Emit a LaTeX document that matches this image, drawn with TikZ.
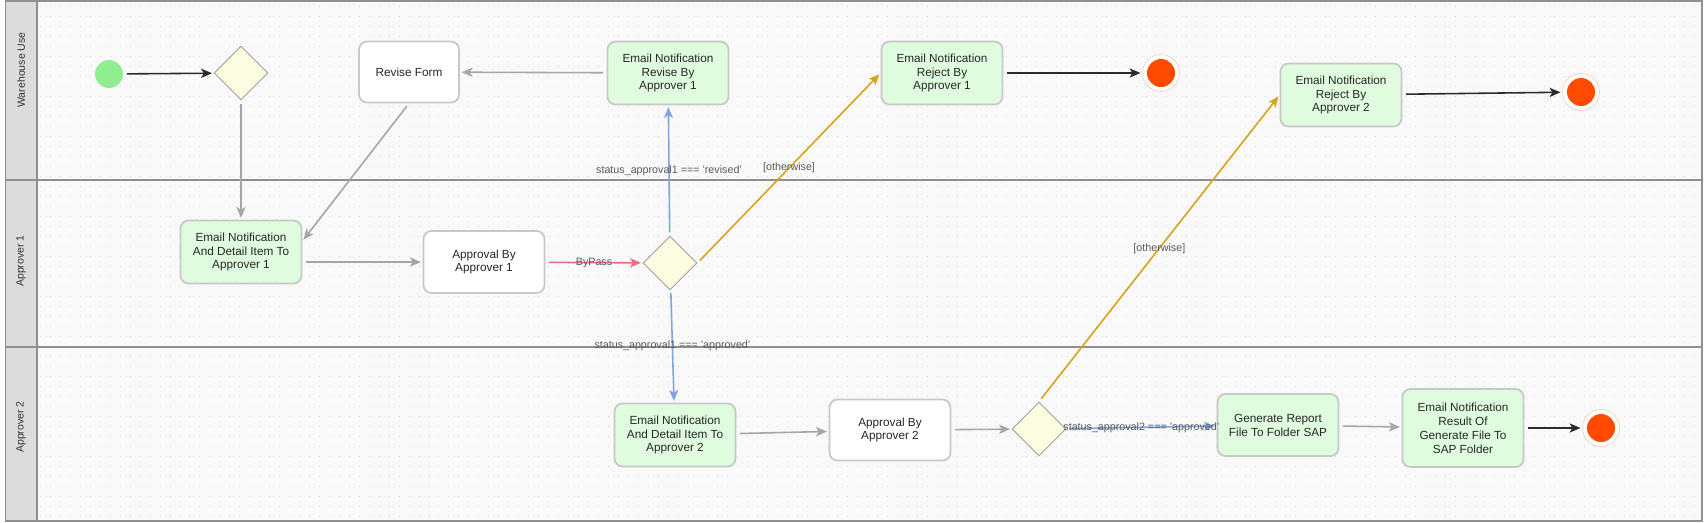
\documentclass[tikz,border=0pt]{standalone}
\usepackage{fontspec}
\setmainfont{Liberation Sans}
\usetikzlibrary{shapes.geometric,arrows.meta}
\definecolor{laneline}{HTML}{8F8F8F}
\definecolor{headfill}{HTML}{DCDCDC}
\definecolor{canvas}{HTML}{F9F9F9}
\definecolor{gridgray}{HTML}{DADADA}
\definecolor{boxline}{HTML}{C8C8C8}
\definecolor{mailfill}{HTML}{E0FCDF}
\definecolor{gatefill}{HTML}{FCFCE0}
\definecolor{gateline}{HTML}{A0A0A0}
\definecolor{startfill}{HTML}{90EE90}
\definecolor{endfill}{HTML}{FF4A00}
\definecolor{endring}{HTML}{FFC4B0}
\definecolor{flowgray}{HTML}{A6A6A6}
\definecolor{flowdark}{HTML}{2B2B2B}
\definecolor{flowblue}{HTML}{7EA6E0}
\definecolor{floworange}{HTML}{D9A21B}
\definecolor{flowpink}{HTML}{EA6B82}
\definecolor{labelgray}{HTML}{595959}
\tikzset{
    taskbox/.style={rectangle,rounded corners=1.6mm,draw=boxline,line width=1pt,fill=white,
        minimum width=2.42cm,minimum height=1.26cm,align=center,inner sep=1pt,
        font=\fontsize{6.7}{7.9}\selectfont,text=black!85},
    mailbox/.style={taskbox,fill=mailfill},
    gate/.style={diamond,draw=gateline,line width=0.5pt,fill=gatefill,
        minimum width=1.08cm,minimum height=1.08cm,inner sep=0pt},
    startdot/.style={circle,fill=startfill,minimum size=0.56cm,inner sep=0pt},
    enddot/.style={circle,draw=endring,line width=0.3pt,fill=white,minimum size=0.74cm,inner sep=0pt,
        path picture={\fill[endfill](path picture bounding box.center)circle(0.28cm);}},
    flow/.style={line width=0.9pt,-{Stealth[length=6.2pt,width=5.2pt,inset=1.6pt]},
        shorten <=2pt,shorten >=1pt},
    guard/.style={font=\fontsize{6.1}{7}\selectfont,text=labelgray,inner sep=1pt},
    lanetitle/.style={rotate=90,font=\fontsize{6}{7}\selectfont,text=black!80}
}
\begin{document}
\begin{tikzpicture}[x=0.02cm,y=-0.02cm]
            \useasboundingbox(0,0)rectangle(1704,522);
            \fill[white](0,0)rectangle(1704,522);
            \fill[canvas](37,1)rectangle(1702,521);
            \foreach \gy in {6,16,...,516}
                \draw[gridgray,line width=0.5pt,dash pattern=on 0.5pt off 5.17pt](40,\gy)--(1700,\gy);
            \fill[headfill](5.5,1)rectangle(37,521);
            \draw[laneline,line width=0.6pt](5.5,1)rectangle(1702,521);
            \draw[laneline,line width=0.6pt](5.5,180)--(1702,180);
            \draw[laneline,line width=0.6pt](5.5,347)--(1702,347);
            \draw[laneline,line width=0.6pt](37,1)--(37,521);
            \node[lanetitle](lane0)at(21,70){Warehouse Use};
            \node[lanetitle](lane1)at(21,261){Approver 1};
            \node[lanetitle](lane2)at(21,427){Approver 2};
            \node[startdot](start)at(109,74){};
            \node[gate](gate1)at(241,73){};
            \node[taskbox,minimum width=2cm,minimum height=1.22cm](revise)at(409,72){Revise Form};
            \node[mailbox](mailrev)at(668,73){Email Notification\\Revise By\\Approver 1};
            \node[mailbox](rej1)at(942,73){Email Notification\\Reject By\\Approver 1};
            \node[enddot](end1)at(1161,73){};
            \node[mailbox](rej2)at(1341,95){Email Notification\\Reject By\\Approver 2};
            \node[enddot](end2)at(1581,92){};
            \node[mailbox](mail1)at(241,252){Email Notification\\And Detail Item To\\Approver 1};
            \node[taskbox,minimum height=1.24cm](appr1)at(484,262){Approval By\\Approver 1};
            \node[gate](gate2)at(670,263){};
            \node[mailbox](mail2)at(675,435){Email Notification\\And Detail Item To\\Approver 2};
            \node[taskbox,minimum height=1.22cm](appr2)at(890,430){Approval By\\Approver 2};
            \node[gate](gate3)at(1039,429){};
            \node[mailbox,minimum height=1.24cm](gen)at(1278,425){Generate Report\\File To Folder SAP};
            \node[mailbox,minimum height=1.56cm](res)at(1463,428){Email Notification\\Result Of\\Generate File To\\SAP Folder};
            \node[enddot](end3)at(1601,428){};
            \draw[flow,flowdark](start)--(gate1);
            \draw[flow,flowgray](gate1)--(mail1);
            \draw[flow,flowgray](mailrev)--(revise);
            \draw[flow,flowgray](revise.south)--(mail1.10);
            \draw[flow,flowgray](mail1.east|-appr1.west)--(appr1.west);
            \draw[flow,flowpink](appr1)--(gate2)node[guard,midway]{ByPass};
            \draw[flow,flowblue](gate2)--(mailrev)node[guard,midway]{status\_approval1 === 'revised'};
            \draw[flow,floworange](gate2.east)--(rej1.west)node[guard,midway]{[otherwise]};
            \draw[flow,flowblue](gate2)--(mail2)node[guard,midway]{status\_approval1 === 'approved'};
            \draw[flow,flowdark](rej1)--(end1);
            \draw[flow,flowgray](mail2)--(appr2);
            \draw[flow,flowgray](appr2)--(gate3);
            \draw[flow,floworange](gate3.north)--(rej2.west)node[guard,midway]{[otherwise]};
            \draw[flow,flowblue](gate3)--(gen)node[guard,midway]{status\_approval2 === 'approved'};
            \draw[flow,flowgray](gen)--(res);
            \draw[flow,flowdark](res)--(end3);
            \draw[flow,flowdark](rej2)--(end2);
\end{tikzpicture}
\end{document}
